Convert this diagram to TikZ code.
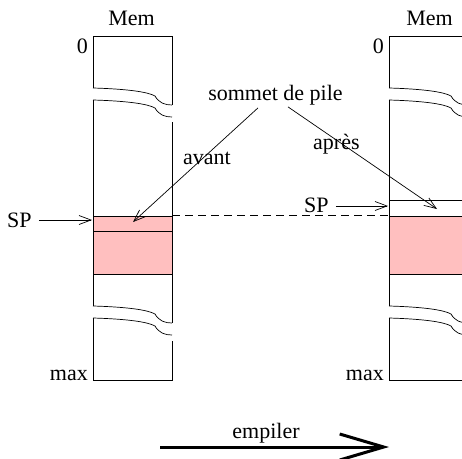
\documentclass[tikz,border=0pt]{standalone}
\usepackage{fontspec}
\setmainfont{Liberation Serif}
\usetikzlibrary{arrows.meta}
\definecolor{stackpink}{RGB}{255,191,191}
\tikzset{
  lbl/.style={font=\fontsize{22}{26}\selectfont, inner sep=0pt},
  memline/.style={line width=0.7pt},
  barb/.style={line width=0.7pt, -{Straight Barb[length=12pt,width=9pt]}},
  pusharrow/.style={line width=3pt, -{Straight Barb[length=44pt,width=26pt]}}
}
\begin{document}
\begin{tikzpicture}[x=1pt,y=-1pt]
    \useasboundingbox (0,0) rectangle (462,458);
    % Stack contents
    \fill[stackpink] (93,216) rectangle (172,274);
    \draw[memline] (93,216) -- (172,216) (93,231) -- (172,231) (93,274) -- (172,274);
    \fill[stackpink] (389,216) rectangle (470,274);
    \draw[memline] (389,200) -- (470,200) (389,216) -- (470,216) (389,274) -- (470,274);
    % Memory columns, broken twice
    \foreach \cx in {93,389} {
      \begin{scope}[xshift=\cx]
        \draw[memline] (0,88) -- (0,36) -- (79,36) -- (79,105);
        \draw[memline] (0,88) .. controls (35,89) and (55,92) .. (62,96)
                              .. controls (66,103) and (72,105) .. (79,105);
        \draw[memline] (0,100) .. controls (35,101) and (55,104) .. (62,108)
                               .. controls (66,115) and (72,117) .. (79,117);
        \draw[memline] (0,100) -- (0,306) (79,122) -- (79,323);
        \draw[memline] (0,306) .. controls (35,307) and (55,310) .. (62,314)
                               .. controls (66,321) and (72,323) .. (79,323);
        \draw[memline] (0,318) .. controls (35,319) and (55,322) .. (62,326)
                               .. controls (66,333) and (72,335) .. (79,335);
        \draw[memline] (79,341) -- (79,380) -- (0,380) -- (0,318);
      \end{scope}
    }
    % Labels of the columns
    \node[lbl, anchor=base] (mem1) at (131.5,25) {Mem};
    \node[lbl, anchor=base] (mem2) at (429.5,25) {Mem};
    \node[lbl, anchor=base east] (zero1) at (88,53) {0};
    \node[lbl, anchor=base east] (zero2) at (384,53) {0};
    \node[lbl, anchor=base east] (max1) at (88,380) {max};
    \node[lbl, anchor=base east] (max2) at (384,380) {max};
    % Stack pointer, before and after
    \node[lbl, anchor=base west] (sp1) at (7,227) {SP};
    \node[lbl, anchor=base west] (sp2) at (304,212) {SP};
    \coordinate (sptip1) at (92,220);
    \coordinate (sptip2) at (388,206);
    \draw[barb] ([xshift=7pt]sp1.east |- sptip1) -- (sptip1);
    \draw[barb] ([xshift=7pt]sp2.east |- sptip2) -- (sptip2);
    \coordinate (oldtop) at (172,215.5);
    \coordinate (newtop) at (389,215.5);
    \draw[memline, dashed, dash pattern=on 8pt off 5pt] (oldtop) -- (newtop);
    % Top of stack
    \node[lbl, anchor=base] (top) at (275.5,100) {sommet de pile};
    \node[lbl, anchor=base west] (before) at (183,164) {avant};
    \node[lbl, anchor=base west] (after) at (313,149) {après};
    \coordinate (toptip1) at (133,222);
    \coordinate (toptip2) at (437,209);
    \draw[barb] ([shift={(-17.5,3)}]top.south) -- (toptip1);
    \draw[barb] ([shift={(12.5,2)}]top.south) -- (toptip2);
    % Push
    \node[lbl, anchor=base] (push) at (266,438) {empiler};
    \coordinate (pushfrom) at (160,447);
    \coordinate (pushto) at (389,447);
    \draw[pusharrow] (pushfrom) -- (pushto);
\end{tikzpicture}
\end{document}
